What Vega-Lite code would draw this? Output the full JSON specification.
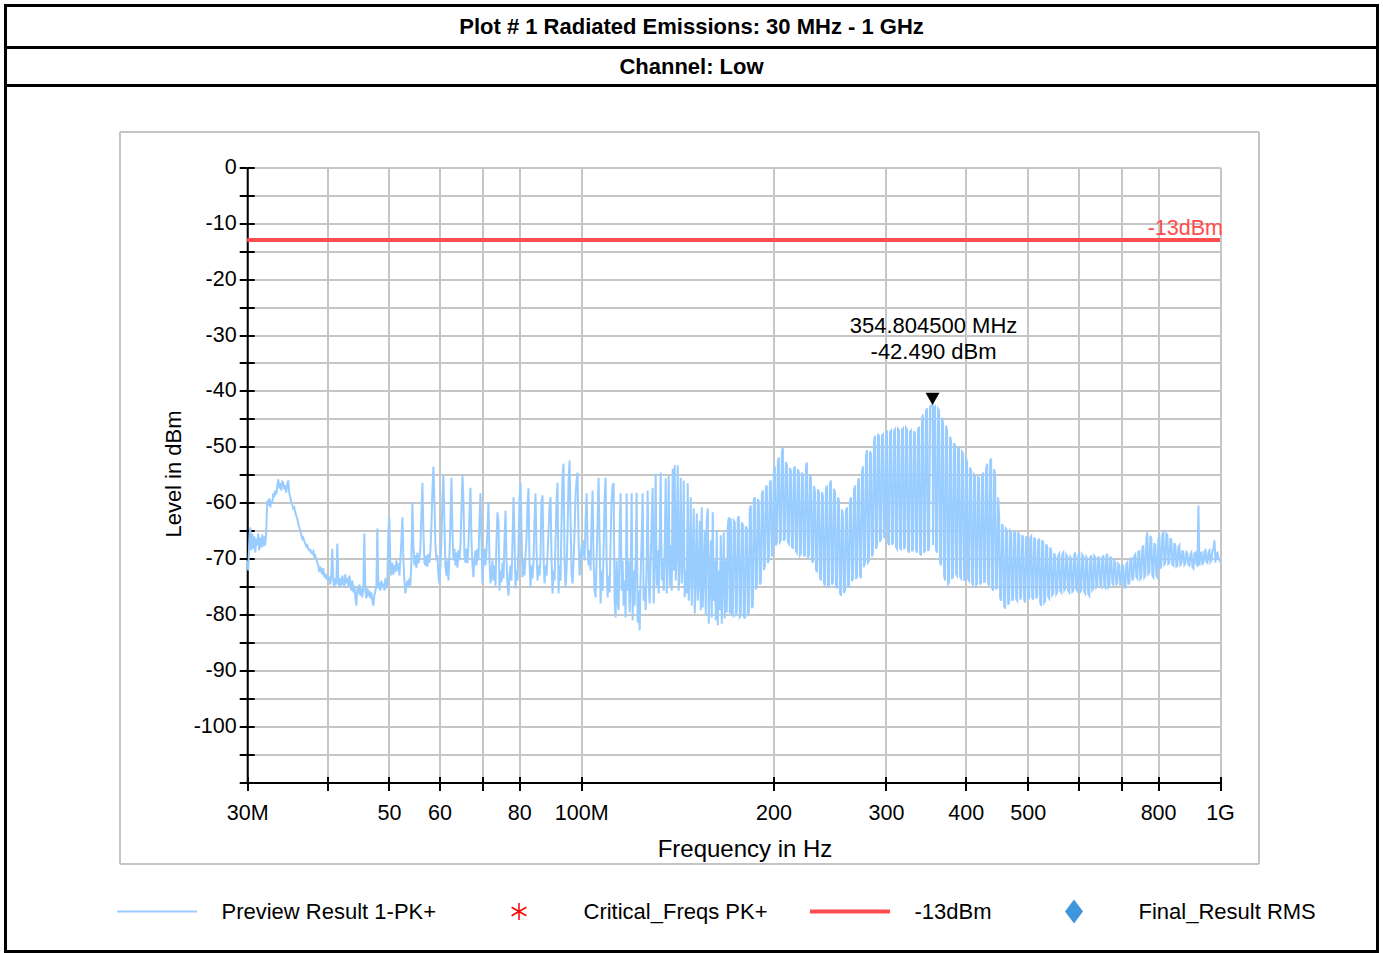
{
  "$schema": "https://vega.github.io/schema/vega-lite/v6.json",
  "padding": {"left": 3.5, "top": 3.5, "right": 0, "bottom": 0},
  "spacing": 0,
  "bounds": "flush",
  "config": {"font": "Liberation Sans", "concat": {"spacing": 0}},
  "vconcat": [
    {
      "width": 1372, "height": 42,
      "view": {"stroke": "black", "strokeWidth": 3},
      "data": {"values": [{"t": "Plot # 1 Radiated Emissions: 30 MHz - 1 GHz"}]},
      "mark": {"type": "text", "font": "Liberation Sans", "fontWeight": "bold", "fontSize": 22, "baseline": "middle", "align": "center", "color": "black"},
      "encoding": {"text": {"field": "t", "type": "nominal"}}
    },
    {
      "width": 1372, "height": 38,
      "view": {"stroke": "black", "strokeWidth": 3},
      "data": {"values": [{"t": "Channel: Low"}]},
      "mark": {"type": "text", "font": "Liberation Sans", "fontWeight": "bold", "fontSize": 22, "baseline": "middle", "align": "center", "color": "black"},
      "encoding": {"text": {"field": "t", "type": "nominal"}}
    },
    {
      "width": 1372, "height": 866,
      "view": {"stroke": "black", "strokeWidth": 3},
      "resolve": {"scale": {"x": "independent", "y": "independent"}, "axis": {"x": "independent", "y": "independent"}},
      "layer": [
        {
          "data": {"values": [{"f1": 30, "f2": 1000, "v": -13, "label": "-13dBm"}]},
          "mark": {"type": "point", "opacity": 0},
          "encoding": {
            "x": {"field": "f1", "type": "quantitative",
              "scale": {"type": "log", "domain": [30, 1000], "range": [114, 1253], "nice": false},
              "axis": {"orient": "top", "offset": 0, "values": [30, 1000], "grid": true, "gridColor": "#c4c4c4", "gridWidth": 2,
                "domain": false, "ticks": false, "labels": false, "title": null}
            },
            "y": {"field": "v", "type": "quantitative",
              "scale": {"domain": [-110, 0], "range": [778, 46], "nice": false, "zero": false},
              "axis": {"orient": "left", "offset": 0, "values": [-110, 0], "grid": true, "gridColor": "#c4c4c4", "gridWidth": 2,
                "domain": false, "ticks": false, "labels": false, "title": null}
            }
          }
        },
        {
          "resolve": {"axis": {"x": "independent", "y": "independent"}},
          "layer": [
        {
          "data": {"values": [
{"f":30.00,"v":-70.3},{"f":30.11,"v":-72.1},{"f":30.22,"v":-67.6},{"f":30.33,"v":-64.4},{"f":30.44,"v":-68.5},{"f":30.55,"v":-65.5},{"f":30.66,"v":-68.2},{"f":30.77,"v":-66.0},{"f":30.89,"v":-68.9},{"f":30.99,"v":-66.4},{"f":31.10,"v":-67.6},{"f":31.21,"v":-65.5},{"f":31.33,"v":-68.5},{"f":31.44,"v":-66.2},{"f":31.55,"v":-68.0},{"f":31.67,"v":-65.7},{"f":31.78,"v":-67.8},{"f":31.90,"v":-66.0},{"f":32.01,"v":-67.6},{"f":32.13,"v":-65.1},{"f":32.25,"v":-59.6},{"f":32.37,"v":-60.5},{"f":32.48,"v":-59.2},{"f":32.60,"v":-60.8},{"f":32.72,"v":-59.6},{"f":32.84,"v":-60.1},{"f":32.95,"v":-58.3},{"f":33.07,"v":-59.0},{"f":33.19,"v":-57.8},{"f":33.31,"v":-58.5},{"f":33.43,"v":-57.1},{"f":33.55,"v":-55.8},{"f":33.67,"v":-57.4},{"f":33.80,"v":-56.5},{"f":33.92,"v":-57.8},{"f":34.04,"v":-56.2},{"f":34.16,"v":-56.4},{"f":34.29,"v":-57.6},{"f":34.41,"v":-56.9},{"f":34.53,"v":-58.2},{"f":34.66,"v":-56.7},{"f":34.79,"v":-56.0},{"f":34.91,"v":-58.3},{"f":35.04,"v":-59.0},{"f":35.16,"v":-59.8},{"f":35.29,"v":-60.3},{"f":35.42,"v":-61.0},{"f":35.55,"v":-60.8},{"f":35.67,"v":-61.7},{"f":35.80,"v":-62.3},{"f":35.93,"v":-62.8},{"f":36.06,"v":-63.7},{"f":36.19,"v":-64.4},{"f":36.32,"v":-65.0},{"f":36.46,"v":-65.7},{"f":36.59,"v":-66.4},{"f":36.72,"v":-66.2},{"f":36.85,"v":-66.9},{"f":36.99,"v":-67.3},{"f":37.12,"v":-67.8},{"f":37.25,"v":-67.6},{"f":37.38,"v":-68.2},{"f":37.52,"v":-68.5},{"f":37.66,"v":-68.4},{"f":37.79,"v":-68.9},{"f":37.93,"v":-69.1},{"f":38.07,"v":-68.7},{"f":38.20,"v":-69.6},{"f":38.34,"v":-69.4},{"f":38.48,"v":-70.0},{"f":38.62,"v":-70.7},{"f":38.76,"v":-71.2},{"f":38.90,"v":-72.4},{"f":39.04,"v":-71.4},{"f":39.18,"v":-72.1},{"f":39.32,"v":-72.8},{"f":39.47,"v":-71.7},{"f":39.61,"v":-73.3},{"f":39.75,"v":-72.6},{"f":39.90,"v":-73.7},{"f":40.04,"v":-73.0},{"f":40.18,"v":-73.9},{"f":40.33,"v":-73.2},{"f":40.48,"v":-74.6},
{"f":40.62,"v":-73.0},{"f":40.77,"v":-68.2},{"f":40.92,"v":-73.9},{"f":41.06,"v":-75.0},{"f":41.21,"v":-73.5},{"f":41.36,"v":-74.6},{"f":41.51,"v":-67.3},{"f":41.66,"v":-73.9},{"f":41.81,"v":-75.1},{"f":41.96,"v":-73.5},{"f":42.11,"v":-74.8},{"f":42.27,"v":-73.0},{"f":42.42,"v":-74.2},{"f":42.57,"v":-75.1},{"f":42.73,"v":-72.8},{"f":42.88,"v":-74.4},{"f":43.04,"v":-73.5},{"f":43.20,"v":-75.0},{"f":43.35,"v":-73.0},{"f":43.51,"v":-74.2},{"f":43.67,"v":-75.7},{"f":43.82,"v":-73.9},{"f":43.98,"v":-76.0},{"f":44.14,"v":-74.8},{"f":44.30,"v":-76.9},{"f":44.46,"v":-78.4},{"f":44.62,"v":-75.3},{"f":44.78,"v":-76.2},{"f":44.94,"v":-74.6},{"f":45.11,"v":-76.6},{"f":45.27,"v":-75.3},{"f":45.43,"v":-76.9},{"f":45.60,"v":-75.0},{"f":45.76,"v":-65.5},{"f":45.93,"v":-75.7},{"f":46.09,"v":-77.1},{"f":46.26,"v":-75.3},{"f":46.43,"v":-76.7},{"f":46.60,"v":-75.7},{"f":46.76,"v":-77.1},{"f":46.93,"v":-76.0},{"f":47.10,"v":-77.5},{"f":47.27,"v":-78.4},{"f":47.44,"v":-76.6},{"f":47.62,"v":-75.7},{"f":47.79,"v":-74.8},{"f":47.96,"v":-64.6},{"f":48.13,"v":-75.3},{"f":48.31,"v":-74.2},{"f":48.48,"v":-75.7},{"f":48.66,"v":-73.9},{"f":48.83,"v":-75.1},{"f":49.01,"v":-74.4},{"f":49.19,"v":-75.7},{"f":49.36,"v":-73.5},{"f":49.54,"v":-75.3},{"f":49.72,"v":-74.2},{"f":49.90,"v":-65.0},{"f":50.08,"v":-62.6},{"f":50.26,"v":-71.2},{"f":50.44,"v":-73.0},{"f":50.63,"v":-70.7},{"f":50.81,"v":-72.8},{"f":50.99,"v":-71.2},{"f":51.18,"v":-72.4},{"f":51.36,"v":-70.3},{"f":51.55,"v":-72.1},{"f":51.74,"v":-70.8},{"f":51.92,"v":-73.0},{"f":52.11,"v":-70.3},{"f":52.30,"v":-66.7},{"f":52.49,"v":-62.6},{"f":52.68,"v":-70.3},{"f":52.87,"v":-73.9},{"f":53.06,"v":-76.2},{"f":53.25,"v":-74.8},{"f":53.44,"v":-73.9},{"f":53.63,"v":-75.1},{"f":53.83,"v":-73.5},{"f":54.02,"v":-74.8},{"f":54.22,"v":-70.3},{"f":54.41,"v":-59.9},{"f":54.61,"v":-67.6},{"f":54.81,"v":-71.2},{"f":55.01,"v":-69.4},{"f":55.21,"v":-71.7},{"f":55.41,"v":-68.9},{"f":55.61,"v":-70.8},{"f":55.81,"v":-70.0},{"f":56.01,"v":-68.2},{"f":56.21,"v":-62.3},{"f":56.42,"v":-56.4},{"f":56.62,"v":-65.0},{"f":56.83,"v":-70.7},{"f":57.03,"v":-71.2},{"f":57.24,"v":-69.4},{"f":57.44,"v":-71.4},{"f":57.65,"v":-69.1},{"f":57.86,"v":-70.7},{"f":58.07,"v":-68.5},{"f":58.28,"v":-64.1},{"f":58.49,"v":-57.8},{"f":58.70,"v":-53.5},{"f":58.91,"v":-59.6},{"f":59.12,"v":-67.6},{"f":59.34,"v":-70.3},{"f":59.55,"v":-69.4},{"f":59.77,"v":-73.0},{"f":59.98,"v":-74.4},{"f":60.20,"v":-71.2},{"f":60.42,"v":-66.7},{"f":60.63,"v":-59.6},{"f":60.85,"v":-54.9},{"f":61.07,"v":-63.2},{"f":61.29,"v":-71.2},{"f":61.52,"v":-73.0},{"f":61.74,"v":-70.3},{"f":61.96,"v":-73.9},{"f":62.19,"v":-69.4},{"f":62.41,"v":-63.2},{"f":62.64,"v":-55.5},{"f":62.86,"v":-65.0},{"f":63.09,"v":-70.3},{"f":63.32,"v":-68.2},{"f":63.55,"v":-71.2},{"f":63.78,"v":-68.9},{"f":64.01,"v":-71.6},{"f":64.24,"v":-68.5},{"f":64.47,"v":-70.3},{"f":64.71,"v":-67.6},{"f":64.94,"v":-61.4},{"f":65.18,"v":-55.1},{"f":65.41,"v":-59.6},{"f":65.65,"v":-69.4},{"f":65.89,"v":-70.7},{"f":66.12,"v":-68.2},{"f":66.36,"v":-70.8},{"f":66.60,"v":-67.6},{"f":66.84,"v":-62.3},{"f":67.08,"v":-57.3},{"f":67.33,"v":-66.7},{"f":67.57,"v":-71.2},{"f":67.81,"v":-73.3},{"f":68.06,"v":-70.3},{"f":68.31,"v":-68.5},{"f":68.55,"v":-71.2},{"f":68.80,"v":-68.2},{"f":69.05,"v":-70.3},{"f":69.30,"v":-63.2},{"f":69.55,"v":-58.3},{"f":69.80,"v":-66.7},{"f":70.05,"v":-74.4},{"f":70.31,"v":-70.3},{"f":70.56,"v":-68.2},{"f":70.82,"v":-71.2},{"f":71.07,"v":-68.5},{"f":71.33,"v":-65.0},{"f":71.59,"v":-59.9},{"f":71.85,"v":-70.3},{"f":72.11,"v":-74.4},{"f":72.37,"v":-73.0},{"f":72.63,"v":-70.3},{"f":72.89,"v":-73.9},{"f":73.16,"v":-71.2},{"f":73.42,"v":-74.8},{"f":73.69,"v":-66.7},{"f":73.95,"v":-61.7},{"f":74.22,"v":-63.2},{"f":74.49,"v":-75.7},{"f":74.76,"v":-72.1},{"f":75.03,"v":-74.2},{"f":75.30,"v":-70.7},{"f":75.57,"v":-73.5},{"f":75.84,"v":-66.7},{"f":76.12,"v":-61.4},{"f":76.39,"v":-70.3},{"f":76.67,"v":-74.8},{"f":76.95,"v":-76.6},{"f":77.22,"v":-73.0},{"f":77.50,"v":-71.2},{"f":77.78,"v":-73.9},{"f":78.07,"v":-66.7},{"f":78.35,"v":-59.0},{"f":78.63,"v":-66.7},{"f":78.91,"v":-75.3},{"f":79.20,"v":-72.1},{"f":79.48,"v":-73.9},{"f":79.77,"v":-67.6},{"f":80.06,"v":-59.6},{"f":80.35,"v":-56.4},{"f":80.64,"v":-65.0},{"f":80.93,"v":-73.3},{"f":81.22,"v":-70.3},{"f":81.51,"v":-73.0},{"f":81.81,"v":-69.4},{"f":82.10,"v":-66.7},{"f":82.40,"v":-60.5},{"f":82.70,"v":-57.4},{"f":82.99,"v":-70.3},{"f":83.29,"v":-75.1},{"f":83.60,"v":-71.2},{"f":83.90,"v":-73.5},{"f":84.20,"v":-70.3},{"f":84.51,"v":-63.2},{"f":84.81,"v":-58.3},{"f":85.12,"v":-68.5},{"f":85.43,"v":-73.9},{"f":85.74,"v":-71.2},{"f":86.05,"v":-73.0},{"f":86.36,"v":-69.4},{"f":86.67,"v":-59.6},{"f":86.99,"v":-58.7},{"f":87.30,"v":-69.4},{"f":87.62,"v":-74.4},{"f":87.93,"v":-71.2},{"f":88.25,"v":-73.0},{"f":88.57,"v":-69.4},{"f":88.89,"v":-65.0},{"f":89.21,"v":-60.5},{"f":89.54,"v":-59.0},{"f":89.86,"v":-70.3},{"f":90.19,"v":-76.2},{"f":90.51,"v":-72.1},{"f":90.84,"v":-73.9},{"f":91.17,"v":-66.7},{"f":91.50,"v":-59.6},{"f":91.82,"v":-56.4},{"f":92.15,"v":-76.2},{"f":92.49,"v":-71.2},{"f":92.82,"v":-73.9},{"f":93.16,"v":-63.2},{"f":93.49,"v":-55.1},{"f":93.83,"v":-53.0},{"f":94.17,"v":-70.3},{"f":94.51,"v":-75.1},{"f":94.85,"v":-72.1},{"f":95.20,"v":-65.0},{"f":95.54,"v":-56.0},{"f":95.89,"v":-52.4},{"f":96.24,"v":-63.2},{"f":96.59,"v":-73.0},{"f":96.94,"v":-74.4},{"f":97.29,"v":-70.3},{"f":97.64,"v":-65.0},{"f":97.99,"v":-58.7},{"f":98.35,"v":-56.0},{"f":98.70,"v":-54.6},{"f":99.06,"v":-66.7},{"f":99.42,"v":-73.0},{"f":99.78,"v":-70.3},{"f":100.14,"v":-67.6},{"f":100.50,"v":-69.4},{"f":100.86,"v":-66.7},{"f":101.23,"v":-70.3},{"f":101.59,"v":-63.2},{"f":101.96,"v":-58.3},{"f":102.32,"v":-67.6},{"f":102.69,"v":-71.2},{"f":103.06,"v":-68.5},{"f":103.43,"v":-72.1},{"f":103.81,"v":-63.2},{"f":104.18,"v":-57.8},{"f":104.56,"v":-70.3},{"f":104.94,"v":-75.7},{"f":105.32,"v":-76.9},{"f":105.70,"v":-70.3},{"f":106.08,"v":-63.2},{"f":106.46,"v":-55.5},{"f":106.85,"v":-66.7},{"f":107.24,"v":-78.0},{"f":107.63,"v":-72.1},{"f":108.01,"v":-75.7},{"f":108.40,"v":-68.5},{"f":108.80,"v":-59.6},{"f":109.19,"v":-55.5},{"f":109.58,"v":-70.3},{"f":109.98,"v":-76.9},{"f":110.38,"v":-73.0},{"f":110.78,"v":-76.0},{"f":111.18,"v":-66.7},{"f":111.58,"v":-59.6},{"f":111.98,"v":-56.9},{"f":112.39,"v":-56.5},{"f":112.79,"v":-77.5},{"f":113.20,"v":-80.5},{"f":113.61,"v":-70.3},{"f":114.02,"v":-77.5},{"f":114.43,"v":-79.2},{"f":114.85,"v":-65.0},{"f":115.26,"v":-58.3},{"f":115.68,"v":-75.7},{"f":116.10,"v":-70.3},{"f":116.52,"v":-78.4},{"f":116.94,"v":-73.9},{"f":117.36,"v":-80.5},{"f":117.79,"v":-58.3},{"f":118.21,"v":-75.7},{"f":118.64,"v":-70.3},{"f":119.07,"v":-79.6},{"f":119.50,"v":-73.9},{"f":119.93,"v":-58.3},{"f":120.36,"v":-81.0},{"f":120.80,"v":-72.1},{"f":121.24,"v":-78.4},{"f":121.67,"v":-70.3},{"f":122.11,"v":-58.2},{"f":122.56,"v":-81.4},{"f":123.00,"v":-75.7},{"f":123.45,"v":-82.8},{"f":123.89,"v":-73.0},{"f":124.34,"v":-66.7},{"f":124.79,"v":-58.3},{"f":125.24,"v":-77.5},{"f":125.70,"v":-74.8},{"f":126.15,"v":-79.2},{"f":126.61,"v":-70.3},{"f":127.07,"v":-57.8},{"f":127.53,"v":-73.9},{"f":127.99,"v":-78.0},{"f":128.45,"v":-70.3},{"f":128.92,"v":-63.2},{"f":129.38,"v":-57.3},{"f":129.85,"v":-78.0},{"f":130.32,"v":-70.3},{"f":130.79,"v":-54.8},{"f":131.27,"v":-74.8},{"f":131.74,"v":-68.5},{"f":132.22,"v":-76.2},{"f":132.70,"v":-66.7},{"f":133.18,"v":-54.6},{"f":133.66,"v":-73.9},{"f":134.14,"v":-70.3},{"f":134.63,"v":-75.7},{"f":135.12,"v":-67.6},{"f":135.60,"v":-55.6},{"f":136.10,"v":-76.2},{"f":136.58,"v":-69.4},{"f":137.07,"v":-55.1},{"f":137.57,"v":-74.8},{"f":138.07,"v":-67.6},{"f":138.57,"v":-75.7},{"f":139.07,"v":-53.9},{"f":139.57,"v":-72.1},{"f":140.07,"v":-53.3},{"f":140.58,"v":-73.9},{"f":141.09,"v":-68.5},{"f":141.60,"v":-53.3},{"f":142.11,"v":-75.7},{"f":142.63,"v":-70.3},{"f":143.14,"v":-55.5},{"f":143.66,"v":-74.4},{"f":144.18,"v":-70.3},{"f":144.70,"v":-56.0},{"f":145.22,"v":-76.9},{"f":145.75,"v":-72.1},{"f":146.28,"v":-76.2},{"f":146.81,"v":-56.5},{"f":147.34,"v":-77.5},{"f":147.87,"v":-72.1},{"f":148.41,"v":-59.0},{"f":148.94,"v":-78.4},{"f":149.48,"v":-70.3},{"f":150.02,"v":-61.0},{"f":150.57,"v":-79.8},{"f":151.11,"v":-73.0},{"f":151.66,"v":-61.9},{"f":152.20,"v":-77.5},{"f":152.75,"v":-73.9},{"f":153.31,"v":-63.2},{"f":153.86,"v":-79.2},{"f":154.42,"v":-60.8},{"f":154.97,"v":-78.7},{"f":155.53,"v":-72.1},{"f":156.09,"v":-65.0},{"f":156.66,"v":-80.1},{"f":157.23,"v":-63.2},{"f":157.80,"v":-61.0},{"f":158.37,"v":-81.6},{"f":158.94,"v":-73.9},{"f":159.52,"v":-66.7},{"f":160.09,"v":-80.5},{"f":160.67,"v":-61.7},{"f":161.25,"v":-77.5},{"f":161.84,"v":-70.3},{"f":162.42,"v":-81.0},{"f":163.01,"v":-65.0},{"f":163.60,"v":-81.9},{"f":164.19,"v":-72.1},{"f":164.78,"v":-79.2},{"f":165.38,"v":-65.8},{"f":165.98,"v":-81.6},{"f":166.58,"v":-73.9},{"f":167.18,"v":-65.3},{"f":167.78,"v":-80.7},{"f":168.39,"v":-70.3},{"f":169.00,"v":-79.6},{"f":169.61,"v":-64.1},{"f":170.22,"v":-62.6},{"f":170.84,"v":-79.8},
{"f":171.46,"v":-62.8},{"f":172.08,"v":-79.8},{"f":172.70,"v":-80.1},{"f":173.32,"v":-63.2},{"f":173.95,"v":-63.5},{"f":174.58,"v":-79.9},{"f":175.21,"v":-79.6},{"f":175.84,"v":-62.8},{"f":176.49,"v":-62.4},{"f":177.13,"v":-80.4},{"f":177.76,"v":-80.1},{"f":178.40,"v":-63.5},{"f":179.05,"v":-63.9},{"f":179.70,"v":-80.3},{"f":180.35,"v":-80.7},{"f":181.00,"v":-64.2},{"f":181.66,"v":-64.6},{"f":182.32,"v":-79.9},{"f":182.97,"v":-79.6},{"f":183.63,"v":-61.0},{"f":184.29,"v":-60.5},{"f":184.96,"v":-78.8},{"f":185.63,"v":-78.4},{"f":186.30,"v":-59.5},{"f":186.97,"v":-59.0},{"f":187.65,"v":-75.5},{"f":188.33,"v":-74.8},{"f":189.01,"v":-59.3},{"f":189.69,"v":-59.9},{"f":190.38,"v":-74.6},{"f":191.07,"v":-74.2},{"f":191.76,"v":-58.4},{"f":192.45,"v":-57.8},{"f":193.15,"v":-72.0},{"f":193.85,"v":-71.2},{"f":194.55,"v":-57.3},{"f":195.25,"v":-56.9},{"f":195.96,"v":-70.8},{"f":196.67,"v":-70.3},{"f":197.38,"v":-56.4},{"f":198.09,"v":-56.0},{"f":198.81,"v":-69.6},{"f":199.53,"v":-69.1},{"f":200.25,"v":-54.3},{"f":200.98,"v":-53.5},{"f":201.71,"v":-67.6},{"f":202.43,"v":-67.1},{"f":203.16,"v":-52.6},{"f":203.89,"v":-51.9},{"f":204.63,"v":-67.0},{"f":205.37,"v":-66.7},{"f":206.11,"v":-51.0},{"f":206.86,"v":-50.1},{"f":207.61,"v":-66.8},{"f":208.36,"v":-66.4},{"f":209.11,"v":-52.7},{"f":209.87,"v":-53.3},{"f":210.63,"v":-67.0},{"f":211.39,"v":-67.3},{"f":212.15,"v":-53.8},{"f":212.92,"v":-54.2},{"f":213.69,"v":-67.8},{"f":214.46,"v":-68.2},{"f":215.24,"v":-54.0},{"f":216.02,"v":-53.5},{"f":216.80,"v":-68.6},{"f":217.58,"v":-68.9},{"f":218.37,"v":-54.0},{"f":219.16,"v":-54.6},{"f":219.95,"v":-69.4},{"f":220.75,"v":-69.1},{"f":221.55,"v":-54.6},{"f":222.35,"v":-55.1},{"f":223.15,"v":-69.2},{"f":223.96,"v":-69.6},{"f":224.77,"v":-53.6},{"f":225.58,"v":-52.8},{"f":226.40,"v":-69.8},{"f":227.22,"v":-69.4},{"f":228.04,"v":-55.0},{"f":228.86,"v":-55.6},{"f":229.69,"v":-70.2},{"f":230.52,"v":-70.7},{"f":231.35,"v":-57.0},{"f":232.19,"v":-57.8},{"f":233.03,"v":-71.8},{"f":233.88,"v":-72.4},{"f":234.73,"v":-57.6},{"f":235.57,"v":-58.2},{"f":236.42,"v":-73.2},{"f":237.27,"v":-73.9},{"f":238.13,"v":-58.1},{"f":238.99,"v":-58.7},{"f":239.85,"v":-74.3},{"f":240.72,"v":-74.8},{"f":241.59,"v":-57.6},{"f":242.47,"v":-56.9},{"f":243.35,"v":-75.2},{"f":244.22,"v":-74.8},{"f":245.10,"v":-56.6},{"f":245.99,"v":-56.0},{"f":246.88,"v":-74.6},{"f":247.77,"v":-74.2},{"f":248.67,"v":-57.5},{"f":249.57,"v":-58.2},{"f":250.47,"v":-74.9},{"f":251.37,"v":-75.3},{"f":252.28,"v":-59.0},{"f":253.20,"v":-59.6},{"f":254.12,"v":-76.0},{"f":255.04,"v":-76.6},{"f":255.96,"v":-61.2},{"f":256.88,"v":-62.3},{"f":257.81,"v":-76.1},{"f":258.74,"v":-75.7},{"f":259.68,"v":-61.5},{"f":260.62,"v":-60.8},{"f":261.56,"v":-75.2},{"f":262.51,"v":-74.8},{"f":263.46,"v":-59.8},{"f":264.41,"v":-59.0},{"f":265.37,"v":-74.0},{"f":266.32,"v":-73.5},{"f":267.28,"v":-57.8},{"f":268.25,"v":-56.9},{"f":269.22,"v":-73.6},{"f":270.20,"v":-73.2},{"f":271.18,"v":-56.2},{"f":272.15,"v":-55.6},{"f":273.13,"v":-73.0},{"f":274.12,"v":-73.5},{"f":275.11,"v":-54.4},{"f":276.11,"v":-53.5},{"f":277.11,"v":-71.5},{"f":278.11,"v":-70.7},{"f":279.12,"v":-51.8},{"f":280.12,"v":-50.6},{"f":281.13,"v":-70.6},{"f":282.16,"v":-70.3},{"f":283.18,"v":-50.8},{"f":284.20,"v":-51.2},{"f":285.23,"v":-69.6},{"f":286.26,"v":-69.1},{"f":287.29,"v":-49.0},{"f":288.33,"v":-48.0},{"f":289.37,"v":-68.2},{"f":290.42,"v":-67.6},{"f":291.47,"v":-47.7},{"f":292.52,"v":-48.1},{"f":293.58,"v":-67.0},{"f":294.64,"v":-66.4},{"f":295.70,"v":-48.0},{"f":296.78,"v":-47.8},{"f":297.85,"v":-66.3},{"f":298.93,"v":-65.8},{"f":300.01,"v":-47.6},{"f":301.09,"v":-47.4},{"f":302.18,"v":-67.0},{"f":303.28,"v":-67.6},{"f":304.38,"v":-47.3},{"f":305.48,"v":-47.1},{"f":306.58,"v":-67.5},{"f":307.69,"v":-67.1},{"f":308.80,"v":-47.2},{"f":309.92,"v":-46.9},{"f":311.04,"v":-67.9},{"f":312.16,"v":-68.2},{"f":313.29,"v":-46.8},{"f":314.42,"v":-47.1},{"f":315.56,"v":-68.0},{"f":316.70,"v":-68.5},{"f":317.84,"v":-46.9},{"f":318.99,"v":-46.7},{"f":320.14,"v":-68.3},{"f":321.30,"v":-67.8},{"f":322.46,"v":-46.6},{"f":323.63,"v":-46.9},{"f":324.80,"v":-68.5},{"f":325.98,"v":-68.9},{"f":327.16,"v":-47.3},{"f":328.35,"v":-47.1},{"f":329.54,"v":-68.7},{"f":330.72,"v":-68.2},{"f":331.92,"v":-47.2},{"f":333.12,"v":-47.6},{"f":334.32,"v":-68.4},{"f":335.53,"v":-68.9},{"f":336.74,"v":-46.9},{"f":337.97,"v":-46.4},{"f":339.19,"v":-69.0},{"f":340.42,"v":-69.4},{"f":341.65,"v":-45.0},{"f":342.88,"v":-44.2},{"f":344.12,"v":-68.9},{"f":345.36,"v":-68.5},{"f":346.61,"v":-43.6},{"f":347.86,"v":-43.1},{"f":349.12,"v":-68.6},{"f":350.38,"v":-68.2},{"f":351.65,"v":-42.9},{"f":352.92,"v":-42.6},{"f":354.80,"v":-42.5},{"f":355.48,"v":-67.6},{"f":356.76,"v":-43.0},{"f":358.05,"v":-42.8},{"f":359.34,"v":-68.5},{"f":360.65,"v":-68.9},{"f":361.95,"v":-43.2},{"f":363.26,"v":-43.5},{"f":364.57,"v":-70.6},{"f":365.89,"v":-71.2},{"f":367.21,"v":-44.8},{"f":368.54,"v":-45.6},{"f":369.87,"v":-73.0},{"f":371.21,"v":-73.9},{"f":372.55,"v":-46.2},{"f":373.90,"v":-47.1},{"f":375.25,"v":-74.5},{"f":376.62,"v":-74.2},{"f":377.98,"v":-48.2},{"f":379.34,"v":-48.9},{"f":380.71,"v":-73.6},{"f":382.09,"v":-73.0},{"f":383.47,"v":-49.3},{"f":384.86,"v":-49.8},{"f":386.25,"v":-72.7},{"f":387.64,"v":-73.0},{"f":389.04,"v":-50.0},{"f":390.46,"v":-50.5},{"f":391.87,"v":-73.2},{"f":393.28,"v":-73.5},{"f":394.70,"v":-50.9},{"f":396.13,"v":-51.2},{"f":397.56,"v":-73.9},{"f":399.00,"v":-73.5},{"f":400.44,"v":-52.0},{"f":401.89,"v":-52.8},{"f":403.34,"v":-73.6},{"f":404.81,"v":-73.9},{"f":406.27,"v":-53.7},{"f":407.74,"v":-54.4},{"f":409.21,"v":-74.4},{"f":410.69,"v":-74.8},{"f":412.17,"v":-55.0},{"f":413.67,"v":-55.3},{"f":415.17,"v":-74.7},{"f":416.66,"v":-74.4},{"f":418.17,"v":-55.4},{"f":419.69,"v":-55.6},{"f":421.21,"v":-74.6},{"f":422.73,"v":-74.2},{"f":424.26,"v":-55.2},{"f":425.79,"v":-54.6},{"f":427.33,"v":-74.3},{"f":428.88,"v":-73.9},{"f":430.43,"v":-53.8},{"f":431.98,"v":-53.0},{"f":433.54,"v":-74.3},{"f":435.12,"v":-74.8},{"f":436.69,"v":-52.5},{"f":438.27,"v":-52.1},{"f":439.85,"v":-75.2},{"f":441.44,"v":-75.7},{"f":443.04,"v":-54.0},{"f":444.64,"v":-55.1},{"f":446.25,"v":-75.5},{"f":447.86,"v":-75.0},{"f":449.48,"v":-59.0},{"f":451.10,"v":-62.3},{"f":452.73,"v":-77.0},{"f":454.37,"v":-77.5},{"f":456.01,"v":-63.8},{"f":457.66,"v":-64.6},{"f":459.31,"v":-78.4},{"f":460.98,"v":-78.9},{"f":462.65,"v":-64.7},{"f":464.31,"v":-65.0},{"f":465.99,"v":-78.2},{"f":467.68,"v":-77.8},{"f":469.37,"v":-65.0},{"f":471.07,"v":-65.3},{"f":472.77,"v":-77.5},{"f":474.48,"v":-77.1},{"f":476.19,"v":-65.4},{"f":477.92,"v":-65.0},{"f":479.65,"v":-77.2},{"f":481.38,"v":-77.5},{"f":483.12,"v":-65.3},{"f":484.88,"v":-65.7},{"f":486.63,"v":-77.3},{"f":488.39,"v":-76.9},{"f":490.16,"v":-65.8},{"f":491.92,"v":-66.2},{"f":493.70,"v":-77.4},{"f":495.49,"v":-77.8},{"f":497.28,"v":-66.0},{"f":499.08,"v":-66.4},{"f":500.88,"v":-77.3},{"f":502.70,"v":-76.9},{"f":504.52,"v":-66.3},{"f":506.34,"v":-66.0},{"f":508.17,"v":-76.9},{"f":510.01,"v":-77.3},{"f":511.85,"v":-66.2},{"f":513.70,"v":-66.6},{"f":515.56,"v":-77.1},{"f":517.42,"v":-76.7},{"f":519.29,"v":-66.8},{"f":521.18,"v":-66.4},{"f":523.06,"v":-77.9},{"f":524.95,"v":-78.4},{"f":526.85,"v":-66.7},{"f":528.75,"v":-67.1},{"f":530.66,"v":-77.8},{"f":532.58,"v":-77.5},{"f":534.50,"v":-67.4},{"f":536.44,"v":-67.8},{"f":538.38,"v":-76.8},{"f":540.33,"v":-77.1},{"f":542.28,"v":-68.0},{"f":544.24,"v":-68.5},{"f":546.21,"v":-76.5},{"f":548.18,"v":-76.2},{"f":550.16,"v":-69.0},{"f":552.15,"v":-69.6},{"f":554.15,"v":-76.3},{"f":556.15,"v":-76.0},{"f":558.16,"v":-69.4},{"f":560.19,"v":-69.1},{"f":562.21,"v":-75.7},{"f":564.24,"v":-76.0},{"f":566.28,"v":-69.2},{"f":568.33,"v":-68.9},{"f":570.38,"v":-75.6},{"f":572.45,"v":-75.3},{"f":574.52,"v":-69.3},{"f":576.59,"v":-69.6},{"f":578.67,"v":-75.7},{"f":580.78,"v":-76.0},{"f":582.88,"v":-69.7},{"f":584.99,"v":-70.0},{"f":587.10,"v":-75.9},{"f":589.22,"v":-75.7},{"f":591.35,"v":-69.3},{"f":593.49,"v":-68.9},{"f":595.63,"v":-75.4},{"f":597.79,"v":-75.7},{"f":599.95,"v":-69.5},{"f":602.13,"v":-69.2},{"f":604.31,"v":-75.9},{"f":606.49,"v":-75.7},{"f":608.68,"v":-69.3},{"f":610.88,"v":-69.6},{"f":613.09,"v":-75.9},{"f":615.30,"v":-76.2},{"f":617.52,"v":-69.7},{"f":619.76,"v":-70.0},{"f":622.00,"v":-76.3},{"f":624.26,"v":-76.6},{"f":626.52,"v":-69.8},{"f":628.78,"v":-69.4},{"f":631.05,"v":-75.6},{"f":633.33,"v":-75.3},{"f":635.62,"v":-69.5},{"f":637.92,"v":-69.8},{"f":640.23,"v":-75.1},{"f":642.54,"v":-74.8},{"f":644.86,"v":-69.6},{"f":647.20,"v":-70.0},{"f":649.54,"v":-74.7},{"f":651.89,"v":-75.0},{"f":654.25,"v":-69.8},{"f":656.61,"v":-69.4},{"f":658.98,"v":-74.8},{"f":661.37,"v":-75.1},{"f":663.76,"v":-69.5},{"f":666.15,"v":-69.1},{"f":668.56,"v":-75.1},{"f":670.99,"v":-74.8},{"f":673.41,"v":-69.6},{"f":675.85,"v":-70.0},{"f":678.29,"v":-74.3},{"f":680.74,"v":-74.6},{"f":683.20,"v":-70.4},{"f":685.67,"v":-70.7},{"f":688.15,"v":-74.6},{"f":690.64,"v":-74.4},{"f":693.14,"v":-70.9},{"f":695.64,"v":-71.2},{"f":698.15,"v":-74.5},{"f":700.68,"v":-74.2},{"f":703.21,"v":-71.0},{"f":705.76,"v":-71.4},{"f":708.31,"v":-74.9},{"f":710.87,"v":-75.3},{"f":713.44,"v":-71.0},{"f":716.02,"v":-70.7},{"f":718.61,"v":-74.6},{"f":721.22,"v":-74.2},{"f":723.83,"v":-70.2},{"f":726.44,"v":-69.8},{"f":729.07,"v":-73.9},{"f":731.70,"v":-73.5},{"f":734.34,"v":-69.5},{"f":737.00,"v":-69.2},{"f":739.66,"v":-73.2},{"f":742.34,"v":-73.5},{"f":745.02,"v":-68.9},{"f":747.72,"v":-68.5},{"f":750.42,"v":-73.6},{"f":753.14,"v":-73.3},{"f":755.86,"v":-68.0},{"f":758.59,"v":-67.6},{"f":761.33,"v":-73.3},{"f":764.09,"v":-73.0},{"f":766.85,"v":-66.2},{"f":769.62,"v":-65.3},{"f":772.40,"v":-72.7},{"f":775.20,"v":-72.4},{"f":778.00,"v":-65.9},{"f":780.82,"v":-66.4},{"f":783.64,"v":-73.0},{"f":786.47,"v":-73.3},{"f":789.31,"v":-67.2},{"f":792.17,"v":-67.6},{"f":795.03,"v":-73.0},{"f":797.91,"v":-73.3},{"f":800.79,"v":-66.5},{"f":803.69,"v":-65.8},{"f":806.59,"v":-71.8},{"f":809.52,"v":-71.2},{"f":812.45,"v":-65.6},{"f":815.38,"v":-65.3},{"f":818.33,"v":-71.0},{"f":821.28,"v":-70.7},{"f":824.25,"v":-65.5},{"f":827.23,"v":-65.8},{"f":830.22,"v":-70.9},{"f":833.23,"v":-70.7},{"f":836.24,"v":-66.3},{"f":839.27,"v":-66.7},{"f":842.30,"v":-71.0},{"f":845.35,"v":-71.2},{"f":848.41,"v":-67.2},{"f":851.47,"v":-67.6},{"f":854.55,"v":-71.4},{"f":857.64,"v":-71.2},{"f":860.74,"v":-67.9},{"f":863.85,"v":-67.6},{"f":866.97,"v":-71.1},{"f":870.11,"v":-70.8},{"f":873.25,"v":-68.5},{"f":876.41,"v":-68.9},{"f":879.58,"v":-71.1},{"f":882.76,"v":-70.8},{"f":885.95,"v":-68.8},{"f":889.15,"v":-69.1},{"f":892.36,"v":-71.0},{"f":895.60,"v":-71.2},{"f":898.84,"v":-69.2},{"f":902.09,"v":-68.9},{"f":905.35,"v":-71.4},{"f":908.62,"v":-71.7},{"f":911.90,"v":-69.1},{"f":915.20,"v":-68.9},{"f":918.51,"v":-71.0},{"f":921.83,"v":-71.2},{"f":925.17,"v":-60.5},{"f":928.51,"v":-71.2},{"f":931.87,"v":-69.0},{"f":935.24,"v":-68.9},{"f":938.62,"v":-70.9},{"f":942.01,"v":-70.7},{"f":945.41,"v":-68.7},{"f":948.83,"v":-68.5},{"f":952.26,"v":-70.5},{"f":955.70,"v":-70.7},{"f":959.15,"v":-68.8},{"f":962.65,"v":-68.5},{"f":966.13,"v":-70.6},{"f":969.62,"v":-70.3},{"f":973.12,"v":-68.5},{"f":976.64,"v":-68.2},{"f":980.17,"v":-66.7},{"f":983.71,"v":-70.7},{"f":987.26,"v":-69.1},{"f":990.83,"v":-68.9},{"f":994.41,"v":-70.0},{"f":998.02,"v":-70.3},{"f":1000,"v":-69.8}
          ]},
          "mark": {"type": "line", "strokeWidth": 2, "clip": false},
          "encoding": {
            "x": {"field": "f", "type": "quantitative",
              "scale": {"type": "log", "domain": [30, 1000], "range": [241.7, 1214.5], "nice": false},
              "axis": {
                "orient": "bottom",
                "values": [30, 40, 50, 60, 70, 80, 100, 200, 300, 400, 500, 600, 700, 800, 1000],
                "labelExpr": "datum.value == 30 ? '30M' : datum.value == 100 ? '100M' : datum.value == 1000 ? '1G' : (datum.value == 40 || datum.value == 70 || datum.value == 600 || datum.value == 700) ? '' : '' + datum.value",
                "offset": -169,
                "grid": false,
                "domainColor": "black", "domainWidth": 2,
                "tickColor": "black", "tickWidth": 2, "tickSize": 8,
                "labelFont": "Liberation Sans", "labelFontSize": 21.5, "labelColor": "black", "labelPadding": 12,
                "labelOverlap": false, "labelFlush": false, "labelBound": false,
                "title": "Frequency in Hz", "titleFont": "Liberation Sans", "titleFontSize": 24, "titleFontWeight": "normal", "titleColor": "black",
                "titleX": 739, "titleY": 74, "titleBaseline": "alphabetic", "titleAlign": "center", "titleAnchor": null
              }
            },
            "y": {"field": "v", "type": "quantitative",
              "scale": {"domain": [-110, 0], "range": [697, 81.7], "nice": false, "zero": false},
              "axis": {
                "orient": "left",
                "values": [-110, -105, -100, -95, -90, -85, -80, -75, -70, -65, -60, -55, -50, -45, -40, -35, -30, -25, -20, -15, -10, -5, 0],
                "labelExpr": "(datum.value % 10 == 0 && datum.value > -110) ? '' + datum.value : ''",
                "offset": -241.7,
                "grid": true, "gridColor": "#c6c6c6", "gridWidth": 2,
                "domainColor": "black", "domainWidth": 2,
                "tickColor": "black", "tickWidth": 2, "tickSize": 8,
                "labelFont": "Liberation Sans", "labelFontSize": 21.5, "labelColor": "black", "labelPadding": 3,
                "labelOverlap": false, "labelFlush": false, "labelBound": false,
                "title": "Level in dBm", "titleFont": "Liberation Sans", "titleFontSize": 22, "titleFontWeight": "normal", "titleColor": "black",
                "titleX": -66.7, "titleY": 388, "titleBaseline": "alphabetic", "titleAlign": "center", "titleAngle": 270, "titleAnchor": null
              }
            },
            "color": {"datum": "Preview Result 1-PK+", "type": "nominal",
              "scale": {"domain": ["Preview Result 1-PK+", "Critical_Freqs PK+", "-13dBm", "Final_Result RMS"], "range": ["#99ccff", "#ff0000", "#ff4d4d", "#4096dc"]},
              "legend": {
                "orient": "none", "legendX": 110.5, "legendY": 891, "direction": "horizontal", "columns": 4,
                "title": null, "labelFont": "Liberation Sans", "labelFontSize": 22, "labelColor": "black", "labelLimit": 600,
                "labelOffset": 23.5, "columnPadding": 41, "clipHeight": 30, "symbolSize": 6400, "symbolType": "stroke", "symbolStrokeWidth": 2,
                "encode": {"symbols": {"update": {
                  "shape": {"signal": "(datum.value === 'Critical_Freqs PK+' ? 'M0,-1L0,1M-0.87,-0.5L0.87,0.5M-0.87,0.5L0.87,-0.5' : datum.value === 'Final_Result RMS' ? 'M0,-1L0.75,0L0,1L-0.75,0Z' : 'stroke')"},
                  "size": {"signal": "(datum.value === 'Critical_Freqs PK+' ? 289 : datum.value === 'Final_Result RMS' ? 576 : 6400)"},
                  "strokeWidth": {"signal": "(datum.value === '-13dBm' ? 4 : datum.value === 'Final_Result RMS' ? 0 : datum.value === 'Critical_Freqs PK+' ? 1.5 : 2)"},
                  "stroke": {"signal": "(datum.value === '-13dBm' ? '#ff4d4d' : datum.value === 'Critical_Freqs PK+' ? '#ff0000' : datum.value === 'Final_Result RMS' ? 'transparent' : '#99ccff')"},
                  "fill": {"signal": "(datum.value === 'Final_Result RMS' ? '#4096dc' : 'transparent')"},
                  "opacity": {"value": 1}
                }}}
              }
            }
          }
        },
        {
          "data": {"values": [{"f1": 30, "f2": 1000, "v": -13, "label": "-13dBm"}]},
          "mark": {"type": "rule", "strokeWidth": 4},
          "encoding": {
            "x": {"field": "f1", "type": "quantitative",
              "axis": {
                "orient": "top", "offset": 0,
                "values": [30, 40, 50, 60, 70, 80, 100, 200, 300, 400, 500, 600, 700, 800, 1000],
                "grid": true, "gridColor": "#c6c6c6", "gridWidth": 2,
                "domain": false, "ticks": false, "labels": false, "title": null
              }
            },
            "x2": {"field": "f2"},
            "y": {"field": "v", "type": "quantitative",
              "axis": {
                "orient": "right", "offset": -1130.3,
                "values": [-110, -105, -100, -95, -90, -85, -80, -75, -70, -65, -60, -55, -50, -45, -40, -35, -30, -25, -20, -15, -10, -5, 0],
                "grid": false, "domain": false, "labels": false, "title": null,
                "ticks": true, "tickSize": 7, "tickWidth": 2, "tickColor": "black"
              }
            },
            "color": {"datum": "-13dBm", "type": "nominal"}
          }
        },
        {
          "data": {"values": [{"f1": 30, "f2": 1000, "v": -13, "label": "-13dBm"}]},
          "mark": {"type": "text", "align": "right", "baseline": "alphabetic", "dx": 3, "dy": -4.5, "fontSize": 21.5, "font": "Liberation Sans", "color": "#ff4d4d"},
          "encoding": {
            "x": {"field": "f2", "type": "quantitative",
              "axis": {
                "orient": "top", "offset": -697,
                "values": [30, 40, 50, 60, 70, 80, 100, 200, 300, 400, 500, 600, 700, 800, 1000],
                "grid": false, "domain": false, "labels": false, "title": null,
                "ticks": true, "tickSize": 6, "tickWidth": 2, "tickColor": "black"
              }
            },
            "y": {"field": "v", "type": "quantitative", "axis": null},
            "text": {"field": "label"}
          }
        },
        {
          "data": {"values": [{"f": 354.8045, "v": -42.49, "label": "354.804500 MHz\n-42.490 dBm"}]},
          "mark": {"type": "point", "shape": "triangle-down", "filled": true, "color": "black", "opacity": 1, "size": 196, "yOffset": -6},
          "encoding": {
            "x": {"field": "f", "type": "quantitative", "axis": null},
            "y": {"field": "v", "type": "quantitative", "axis": null}
          }
        },
        {
          "data": {"values": [{"f": 354.8045, "v": -42.49, "label": "354.804500 MHz\n-42.490 dBm"}]},
          "mark": {"type": "text", "align": "center", "baseline": "alphabetic", "lineBreak": "\n", "lineHeight": 26, "dx": 1, "dy": -71.4, "fontSize": 22, "font": "Liberation Sans", "color": "black"},
          "encoding": {
            "x": {"field": "f", "type": "quantitative", "axis": null},
            "y": {"field": "v", "type": "quantitative", "axis": null},
            "text": {"field": "label"}
          }
        }
          ]
        }
      ]
    }
  ]
}
